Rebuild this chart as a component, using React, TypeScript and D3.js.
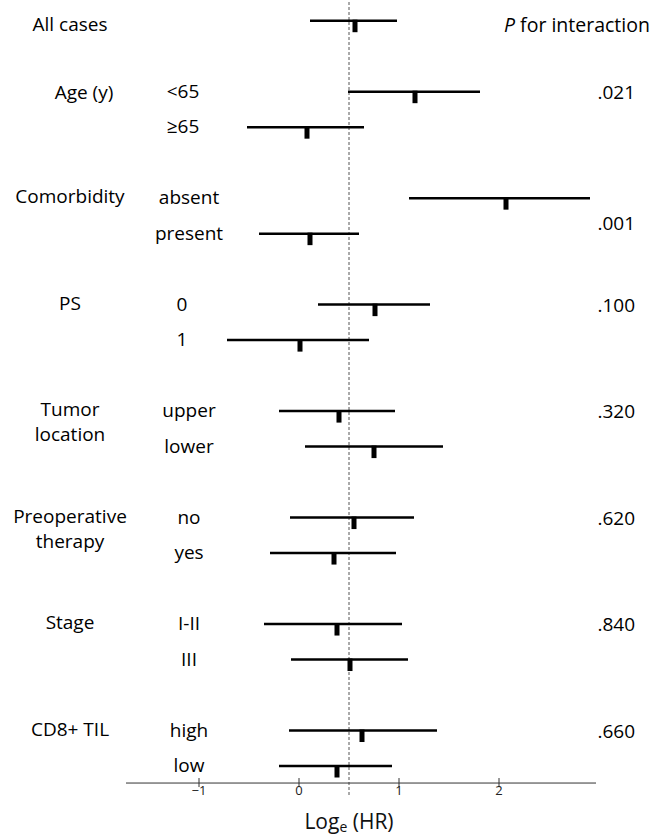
import React, { useEffect, useRef } from "react";
import * as d3 from "d3";

// groups and their p for interaction
const groups = [
  "All cases",
  "Age (y)",
  "Comorbidity",
  "PS",
  "Tumor location",
  "Preoperative therapy",
  "Stage",
  "CD8+ TIL",
];
const pValues = ["", ".021", ".001", ".100", ".320", ".620", ".840", ".660"];

// one entry per row
const rowGroup = [0, 1, 1, 2, 2, 3, 3, 4, 4, 5, 5, 6, 6, 7, 7];
const subgroups = ["", "<65", "≥65", "absent", "present", "0", "1", "upper", "lower", "no", "yes", "I-II", "III", "high", "low"];
const estimates = [0.56, 1.16, 0.08, 2.07, 0.11, 0.76, 0.01, 0.4, 0.75, 0.55, 0.35, 0.38, 0.51, 0.63, 0.38];
const lowers = [0.11, 0.49, -0.52, 1.1, -0.4, 0.19, -0.72, -0.2, 0.06, -0.09, -0.29, -0.35, -0.08, -0.1, -0.2];
const uppers = [0.98, 1.81, 0.65, 2.91, 0.6, 1.31, 0.7, 0.96, 1.44, 1.15, 0.97, 1.03, 1.09, 1.38, 0.93];

const xTicks = [-1, 0, 1, 2];
const xDomain = [-1.73, 2.97];
const refLine = 0.5;

const width = 662;
const height = 836;
const FONT = "'Open Sans', sans-serif";

const ForestPlot = () => {
  const svgRef = useRef(null);

  useEffect(() => {
    const svg = d3.select(svgRef.current);
    svg.selectAll("*").remove();

    // row slot: group 0 is one row, others are pairs with one blank slot between
    const slots = rowGroup.map((g, i) => {
      if (g === 0) return 0;
      const k = rowGroup.slice(0, i).filter((v) => v === g).length;
      return 2 + (g - 1) * 3 + k;
    });

    const x = d3.scaleLinear().domain(xDomain).range([126, 596]);
    const y = d3.scaleLinear().domain([0, 21]).range([20.7, 766]);
    const axisY = y(21.48);

    svg
      .append("rect")
      .attr("width", width)
      .attr("height", height)
      .attr("fill", "#fff");

    // reference dashed line
    svg
      .append("line")
      .attr("x1", x(refLine))
      .attr("x2", x(refLine))
      .attr("y1", 2)
      .attr("y2", axisY + 14)
      .attr("stroke", "#555")
      .attr("stroke-width", 1)
      .attr("stroke-dasharray", "3,2");

    // x axis
    const axis = svg.append("g").attr("transform", `translate(0,${axisY})`);
    axis
      .append("line")
      .attr("x1", x.range()[0])
      .attr("x2", x.range()[1])
      .attr("stroke", "#333")
      .attr("stroke-width", 1);
    axis
      .selectAll(".tick")
      .data(xTicks)
      .join("line")
      .attr("x1", (d) => x(d))
      .attr("x2", (d) => x(d))
      .attr("y1", -5)
      .attr("y2", 4)
      .attr("stroke", "#333");
    axis
      .selectAll(".lbl")
      .data(xTicks)
      .join("text")
      .attr("x", (d) => x(d))
      .attr("y", 12)
      .attr("text-anchor", "middle")
      .style("font-family", FONT)
      .style("font-size", "13px")
      .attr("fill", "#222")
      .text((d) => (d < 0 ? "\u2212" + Math.abs(d) : String(d)));

    // axis title
    const title = svg
      .append("text")
      .attr("x", x(refLine))
      .attr("y", 829)
      .attr("text-anchor", "middle")
      .style("font-family", FONT)
      .style("font-size", "21px")
      .attr("fill", "#111");
    title.append("tspan").text("Log");
    title.append("tspan").attr("dy", 3).style("font-size", "14px").text("e");
    title.append("tspan").attr("dy", -3).text(" (HR)");

    // CI lines and point markers
    const rows = svg
      .append("g")
      .selectAll("g")
      .data(estimates.map((e, i) => ({ e, lo: lowers[i], hi: uppers[i], s: slots[i] })))
      .join("g");
    rows
      .append("line")
      .attr("x1", (d) => x(d.lo))
      .attr("x2", (d) => x(d.hi))
      .attr("y1", (d) => y(d.s))
      .attr("y2", (d) => y(d.s))
      .attr("stroke", "#000")
      .attr("stroke-width", 2.5);
    rows
      .append("rect")
      .attr("x", (d) => x(d.e) - 2.5)
      .attr("y", (d) => y(d.s) - 1)
      .attr("width", 5)
      .attr("height", 12.5)
      .attr("fill", "#000");

    // subgroup labels
    const subNudge = { 1: -6, 3: -7 };
    svg
      .append("g")
      .selectAll("text")
      .data(subgroups.map((t, i) => ({ t, s: slots[i], g: rowGroup[i] })))
      .join("text")
      .attr("x", (d) => 189 + (subNudge[d.g] || 0))
      .attr("y", (d) => y(d.s) + 6)
      .attr("text-anchor", "middle")
      .style("font-family", FONT)
      .style("font-size", "19px")
      .attr("fill", "#000")
      .text((d) => d.t);

    // group labels
    const groupNudge = { 0: { dx: 0, dy: 5 }, 1: { dx: 14, dy: 2 } };
    groups.forEach((name, g) => {
      const first = slots[rowGroup.indexOf(g)];
      const nudge = groupNudge[g] || { dx: 0, dy: 0 };
      const twoLines = name === "Tumor location" || name === "Preoperative therapy";
      const lines = twoLines ? name.split(" ") : [name];
      const t = svg
        .append("text")
        .attr("text-anchor", "middle")
        .style("font-family", FONT)
        .style("font-size", "19px")
        .attr("fill", "#000");
      lines.forEach((ln, j) => {
        t.append("tspan")
          .attr("x", 70 + nudge.dx)
          .attr("y", y(first) + 5 + nudge.dy + j * 25)
          .text(ln);
      });
    });

    // p for interaction
    const pHead = svg
      .append("text")
      .attr("x", 504)
      .attr("y", 31.5)
      .style("font-family", FONT)
      .style("font-size", "19.5px")
      .attr("fill", "#000");
    pHead.append("tspan").style("font-style", "italic").text("P");
    pHead.append("tspan").text(" for interaction");

    const pNudge = { 2: 25 };
    pValues.forEach((p, g) => {
      if (!p) return;
      const first = slots[rowGroup.indexOf(g)];
      svg
        .append("text")
        .attr("x", 635)
        .attr("y", y(first) + 7 + (pNudge[g] || 0))
        .attr("text-anchor", "end")
        .style("font-family", FONT)
        .style("font-size", "19px")
        .attr("fill", "#000")
        .text(p);
    });
  }, []);

  return (
    <svg
      ref={svgRef}
      width={width}
      height={height}
      style={{ position: "absolute", left: 0, top: 0, display: "block" }}
    ></svg>
  );
};

export default function App() {
  return <ForestPlot />;
}
